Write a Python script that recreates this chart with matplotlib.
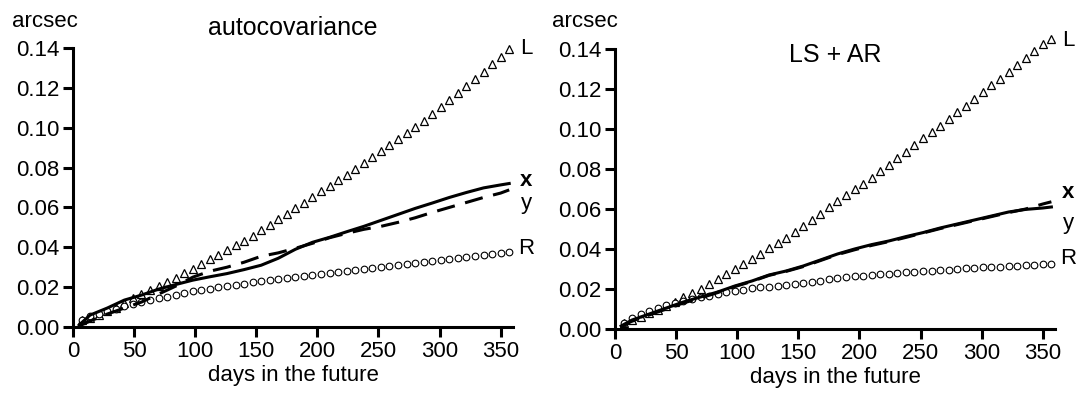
import numpy as np
import matplotlib
matplotlib.use('Agg')
import matplotlib.pyplot as plt

plt.rcParams['font.family'] = ['Liberation Sans', 'DejaVu Sans']
plt.rcParams['font.size'] = 16

# marker series: every 7 days
days = list(range(7, 358, 7))

left_L = [0.0034, 0.0045, 0.0059, 0.0079, 0.0095, 0.0118, 0.0143, 0.0164, 0.0184, 0.0205,
          0.0226, 0.0248, 0.0270, 0.0293, 0.0317, 0.0339, 0.0362, 0.0385, 0.0411, 0.0434,
          0.0459, 0.0486, 0.0513, 0.0540, 0.0568, 0.0595, 0.0623, 0.0652, 0.0680, 0.0709,
          0.0736, 0.0764, 0.0792, 0.0821, 0.0851, 0.0881, 0.0911, 0.0942, 0.0972, 0.1004,
          0.1035, 0.1070, 0.1104, 0.1138, 0.1173, 0.1210, 0.1245, 0.1281, 0.1318, 0.1357,
          0.1394]
left_R = [0.0034, 0.0054, 0.0067, 0.0080, 0.0092, 0.0104, 0.0113, 0.0124, 0.0134, 0.0143,
          0.0151, 0.0159, 0.0169, 0.0179, 0.0186, 0.0193, 0.0200, 0.0205, 0.0211, 0.0218,
          0.0225, 0.0231, 0.0235, 0.0241, 0.0246, 0.0250, 0.0255, 0.0260, 0.0265, 0.0270,
          0.0276, 0.0281, 0.0286, 0.0291, 0.0295, 0.0300, 0.0305, 0.0310, 0.0315, 0.0319,
          0.0324, 0.0329, 0.0334, 0.0339, 0.0344, 0.0349, 0.0354, 0.0359, 0.0364, 0.0369,
          0.0374]
right_L = [0.0029, 0.0045, 0.0059, 0.0079, 0.0095, 0.0115, 0.0137, 0.0159, 0.0179, 0.0202,
           0.0226, 0.0249, 0.0274, 0.0299, 0.0324, 0.0351, 0.0376, 0.0403, 0.0428, 0.0456,
           0.0485, 0.0513, 0.0543, 0.0577, 0.0610, 0.0640, 0.0669, 0.0698, 0.0727, 0.0757,
           0.0789, 0.0819, 0.0853, 0.0886, 0.0920, 0.0953, 0.0983, 0.1017, 0.1050, 0.1084,
           0.1117, 0.1151, 0.1184, 0.1218, 0.1251, 0.1286, 0.1318, 0.1355, 0.1389, 0.1427,
           0.1450]
right_R = [0.0032, 0.0057, 0.0074, 0.0092, 0.0107, 0.0119, 0.0132, 0.0140, 0.0150, 0.0159,
           0.0167, 0.0175, 0.0184, 0.0190, 0.0197, 0.0204, 0.0209, 0.0212, 0.0217, 0.0222,
           0.0227, 0.0232, 0.0237, 0.0242, 0.0249, 0.0255, 0.0260, 0.0264, 0.0267, 0.0271,
           0.0274, 0.0277, 0.0281, 0.0284, 0.0287, 0.0289, 0.0292, 0.0296, 0.0297, 0.0301,
           0.0304, 0.0306, 0.0309, 0.0311, 0.0312, 0.0316, 0.0317, 0.0321, 0.0322, 0.0324,
           0.0326]

# line series
line_days = [5, 14, 28, 42, 56, 70, 84, 98, 112, 126, 140, 154, 168, 182, 196, 210,
             224, 238, 252, 266, 280, 294, 308, 322, 336, 350, 357]
left_x = [0.0010, 0.0060, 0.0095, 0.0135, 0.0160, 0.0190, 0.0213, 0.0235, 0.0252, 0.0268,
          0.0288, 0.0310, 0.0345, 0.0390, 0.0425, 0.0450, 0.0478, 0.0505, 0.0535, 0.0565,
          0.0595, 0.0622, 0.0650, 0.0675, 0.0698, 0.0713, 0.0720]
left_y = [0.0005, 0.0030, 0.0065, 0.0095, 0.0125, 0.0165, 0.0205, 0.0250, 0.0280, 0.0300,
          0.0325, 0.0355, 0.0372, 0.0395, 0.0420, 0.0448, 0.0470, 0.0490, 0.0505, 0.0525,
          0.0548, 0.0575, 0.0600, 0.0625, 0.0650, 0.0672, 0.0688]
right_x = [0.0015, 0.0045, 0.0075, 0.0105, 0.0135, 0.0160, 0.0185, 0.0215, 0.0240, 0.0270,
           0.0290, 0.0315, 0.0345, 0.0375, 0.0400, 0.0422, 0.0440, 0.0462, 0.0482, 0.0505,
           0.0525, 0.0545, 0.0565, 0.0585, 0.0598, 0.0605, 0.0610]
right_y = [0.0010, 0.0040, 0.0070, 0.0100, 0.0130, 0.0155, 0.0182, 0.0212, 0.0238, 0.0268,
           0.0288, 0.0312, 0.0342, 0.0372, 0.0396, 0.0418, 0.0437, 0.0458, 0.0480, 0.0502,
           0.0522, 0.0542, 0.0562, 0.0582, 0.0600, 0.0625, 0.0636]

yticks = [0.00, 0.02, 0.04, 0.06, 0.08, 0.10, 0.12, 0.14]
xticks = [0, 50, 100, 150, 200, 250, 300, 350]

fig = plt.figure(figsize=(10.82, 4.05), dpi=100)
ax1 = fig.add_axes([0.0675, 0.1926, 0.4065, 0.6889])
ax2 = fig.add_axes([0.5684, 0.1877, 0.4067, 0.6913])


def draw_panel(ax, L, R, xs, ys):
    ax.plot(days, L, linestyle='none', marker='^', markersize=5.5, markerfacecolor='white',
            markeredgecolor='black', markeredgewidth=0.9, zorder=2, clip_on=False)
    ax.plot(days, R, linestyle='none', marker='o', markersize=4.8, markerfacecolor='white',
            markeredgecolor='black', markeredgewidth=0.8, zorder=2, clip_on=False)
    ax.plot(line_days, xs, color='black', linewidth=2.2, zorder=3)
    ax.plot(line_days, ys, color='black', linewidth=2.2, dashes=(6, 3.5), zorder=3)
    ax.set_xlim(0, 360)
    ax.set_ylim(0, 0.14)
    ax.set_xticks(xticks)
    ax.set_yticks(yticks)
    ax.set_yticklabels(['%.2f' % v for v in yticks])
    for s in ['top', 'right']:
        ax.spines[s].set_visible(False)
    for s in ['left', 'bottom']:
        ax.spines[s].set_linewidth(2.2)
    ax.tick_params(direction='out', length=7, width=2.2, pad=3, labelsize=16)
    ax.set_xlabel('days in the future', fontsize=16, labelpad=2)


draw_panel(ax1, left_L, left_R, left_x, left_y)
draw_panel(ax2, right_L, right_R, right_x, right_y)

ax1.set_title('autocovariance', fontsize=18, pad=9)
ax2.text(0.5, 0.978, 'LS + AR', transform=ax2.transAxes, ha='center', va='center', fontsize=18)

fig.text(12 / 1082, 1 - 27 / 405, 'arcsec', ha='left', va='baseline', fontsize=16)
fig.text(552 / 1082, 1 - 27 / 405, 'arcsec', ha='left', va='baseline', fontsize=16)

# series labels at the right ends
def end_labels(xpix, ypos):
    for txt, yp, w in zip(['L', 'x', 'y', 'R'], ypos, ['normal', 'bold', 'normal', 'normal']):
        fig.text(xpix / 1082, 1 - yp / 405, txt, ha='center', va='center',
                 fontsize=16, fontweight=w)

end_labels(526, [48, 181, 204, 248])
end_labels(1068, [40, 192, 224, 258])

plt.savefig('out.png', dpi=100)
